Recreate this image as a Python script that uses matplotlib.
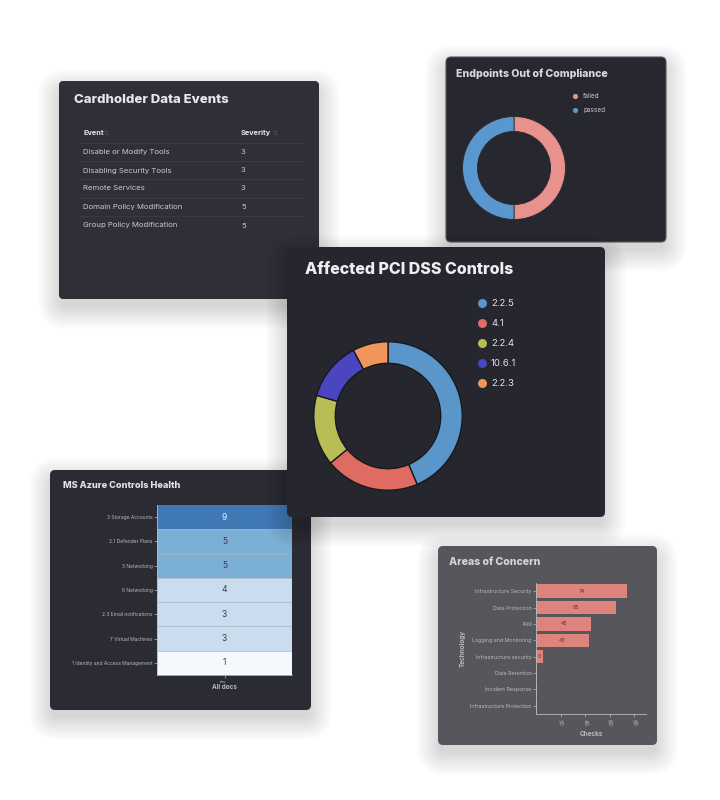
import numpy as np
import matplotlib.pyplot as plt
from matplotlib.patches import FancyBboxPatch
from matplotlib.colors import ListedColormap, BoundaryNorm, LinearSegmentedColormap

# --------- data --------

event_names = ['Disable or Modify Tools', 'Disabling Security Tools', 'Remote Services',
               'Domain Policy Modification', 'Group Policy Modification']
event_severity = [3, 3, 3, 5, 5]

endpoint_labels = ['failed', 'passed']
endpoint_counts = [1, 1]

pci_labels = ['2.2.5', '4.1', '2.2.4', '10.6.1', '2.2.3']
pci_counts = [17, 8, 6, 5, 3]

azure_controls = ['3 Storage Accounts', '2.1 Defender Plans', '3 Networking', '6 Networking',
                  '2.3 Email notifications', '7 Virtual Machines', '1 Identity and Access Management']
azure_docs = [9, 5, 5, 4, 3, 3, 1]

concern_areas = ['Infrastructure Security', 'Data Protection', 'IAM', 'Logging and Monitoring',
                 'Infrastructure security', 'Data Retention', 'Incident Response',
                 'Infrastructure Protection']
concern_checks = [74, 65, 45, 43, 6, 1, 1, 1]

# --------- plot-params -----------

W, H = 720, 800
plt.rcParams['font.family'] = ['Inter', 'DejaVu Sans']
tw = 'heavy'

pci_colors = ['#5b96cb', '#e06b62', '#b9bd55', '#4a46bf', '#f0965a']
endpoint_colors = ['#e8928e', '#5b97cf']

fig = plt.figure(figsize=(7.2, 8), dpi=100)
fig.patch.set_facecolor('white')


def fig_rect(x, y, w, h):
    return [x / W, 1 - (y + h) / H, w / W, h / H]


def panel(x, y, w, h, color, z, edge='none', grad=None):
    ax = fig.add_axes(fig_rect(x, y, w, h), zorder=z)
    ax.set_xlim(0, w)
    ax.set_ylim(h, 0)
    ax.axis('off')
    # soft drop shadow
    for i in range(10):
        e = 1 + i * 2.4
        sh = FancyBboxPatch((-e + 2, -e + 11), w + 2 * e - 4, h + 2 * e - 4,
                            boxstyle='round,pad=0,rounding_size=%g' % (6 + e),
                            fc='black', ec='none', alpha=0.014, clip_on=False)
        ax.add_patch(sh)
    box = FancyBboxPatch((0, 0), w, h, boxstyle='round,pad=0,rounding_size=5',
                         fc=color, ec=edge, lw=0.8, clip_on=False)
    ax.add_patch(box)
    if grad is not None:
        cm = LinearSegmentedColormap.from_list('g', grad)
        g = np.linspace(0, 1, 64)
        img = ax.imshow(np.add.outer(g, g) / 2, cmap=cm, extent=(0, w, h, 0),
                        aspect='auto', interpolation='bicubic')
        img.set_clip_path(box)
    return ax


def sub_axes(x, y, w, h, z):
    ax = fig.add_axes(fig_rect(x, y, w, h), zorder=z)
    ax.patch.set_alpha(0)
    return ax


def donut(ax, values, colors, edge, lw):
    ax.pie(values, colors=colors, startangle=90, counterclock=False,
           wedgeprops=dict(width=0.29, edgecolor=edge, linewidth=lw))
    ax.set_xlim(-1.01, 1.01)
    ax.set_ylim(-1.01, 1.01)


# --------- Cardholder Data Events -----------

ax = panel(59, 81, 260, 218, '#2f3037', 1, grad=['#2a2b31', '#37383f'])
ax.text(15, 19, 'Cardholder Data Events', fontsize=9.5, fontweight=tw,
        color='#e6e6ea', va='center')
ax.text(24, 52, 'Event', fontsize=5.3, fontweight='bold', color='#e6e6ea', va='center')
ax.text(182, 52, 'Severity', fontsize=5.3, fontweight='bold', color='#e6e6ea', va='center')
ax.text(45, 52, '\u21c5', fontsize=4.5, color='#55565c', va='center')
ax.text(214, 52, '\u21c5', fontsize=4.5, color='#55565c', va='center')
row_y = [71, 89.5, 107.5, 126, 144.5]
for i in range(len(event_names)):
    ax.text(24, row_y[i], event_names[i], fontsize=5.6, color='#c9cacf', va='center')
    ax.text(182, row_y[i], str(event_severity[i]), fontsize=5.6, color='#c9cacf', va='center')
    ax.plot([21, 246], [row_y[i] - 9.2, row_y[i] - 9.2], color='#3b3c43', lw=0.6)

# --------- Endpoints Out of Compliance -----------

ax = panel(446, 57, 220, 185, '#27282f', 1, edge='#55565c')
ax.text(10, 17, 'Endpoints Out of Compliance', fontsize=7.6, fontweight=tw,
        color='#d8d8dc', va='center')
for i in range(len(endpoint_labels)):
    ax.scatter(129, 39 + 14 * i, s=14, color=endpoint_colors[i], lw=0)
    ax.text(137, 39 + 14 * i, endpoint_labels[i], fontsize=4.6, color='#c9cacf', va='center')

pax = sub_axes(462, 116, 104, 104, 1.5)
donut(pax, endpoint_counts, endpoint_colors, '#27282f', 0.6)

# --------- MS Azure Controls Health -----------

ax = panel(50, 470, 261, 240, '#2b2c33', 2)
ax.text(13, 16, 'MS Azure Controls Health', fontsize=6.6, fontweight=tw,
        color='#e2e2e6', va='center')

hax = sub_axes(157, 505, 135, 170, 2.5)
cmap = ListedColormap(['#f5f9fe', '#cadcee', '#7bafd5', '#4077b5'])
norm = BoundaryNorm([0, 2, 4.5, 7, 10], cmap.N)
hax.imshow(np.array(azure_docs)[:, None], cmap=cmap, norm=norm, aspect='auto')
for i in range(len(azure_docs)):
    tc = '#e8eef6' if azure_docs[i] > 7 else '#3c4048'
    hax.text(0, i, str(azure_docs[i]), fontsize=6.2, color=tc, ha='center', va='center')
    if i > 0:
        hax.axhline(i - 0.5, color='#a6b6c6', lw=0.5)
hax.set_yticks(range(len(azure_controls)), azure_controls, fontsize=3.5, color='#b8b9be')
hax.set_xticks([0], ['1'], fontsize=5, color='#c8c9ce', rotation=80)
hax.set_xlabel('All docs', fontsize=4.6, fontweight='bold', color='#b8b9be', labelpad=1)
hax.tick_params(length=2, width=0.5, color='#b8b9be', pad=1)
for s in ['top', 'right']:
    hax.spines[s].set_visible(False)
for s in ['left', 'bottom']:
    hax.spines[s].set_color('#b8b9be')
    hax.spines[s].set_linewidth(0.6)

# --------- Areas of Concern -----------

ax = panel(438, 546, 219, 199, '#56575d', 2)
ax.text(11, 16, 'Areas of Concern', fontsize=7.6, fontweight=tw,
        color='#d4d4d8', va='center')

bax = sub_axes(536, 583, 110, 131, 2.5)
bax.barh(range(len(concern_areas)), concern_checks, height=0.82, color='#de847c')
for i in range(len(concern_checks)):
    if concern_checks[i] >= 5:
        bax.text(concern_checks[i] / 2, i, str(concern_checks[i]), fontsize=3.8,
                 color='#4a3a3a', ha='center', va='center')
bax.set_ylim(len(concern_areas) - 0.5, -0.5)
bax.set_xlim(0, 89.5)
bax.set_yticks(range(len(concern_areas)), concern_areas, fontsize=3.8, color='#b9babe')
bax.set_xticks([20, 40, 60, 80], ['20', '40', '60', '80'], fontsize=4.0,
               color='#b9babe', rotation=-70)
bax.set_xlabel('Checks', fontsize=4.6, fontweight='bold', color='#b9babe', labelpad=3)
bax.set_ylabel('Technology', fontsize=4.6, fontweight='bold', color='#b9babe', labelpad=3)
bax.tick_params(length=2, width=0.5, color='#b9babe', pad=1)
for s in ['top', 'right']:
    bax.spines[s].set_visible(False)
for s in ['left', 'bottom']:
    bax.spines[s].set_color('#b9babe')
    bax.spines[s].set_linewidth(0.6)

# --------- Affected PCI DSS Controls -----------

ax = panel(287, 247, 318, 270, '#26272e', 3)
ax.text(18, 23, 'Affected PCI DSS Controls', fontsize=11.5, fontweight=tw,
        color='#eeeef1', va='center')
for i in range(len(pci_labels)):
    ax.scatter(195, 56 + 20 * i, s=42, color=pci_colors[i], lw=0)
    ax.text(204, 56 + 20 * i, pci_labels[i], fontsize=6.9, color='#e4e4e8', va='center')

pax = sub_axes(313, 341, 150, 150, 3.5)
donut(pax, pci_counts, pci_colors, '#18191d', 1.0)

fig.savefig('out.png', dpi=100)
